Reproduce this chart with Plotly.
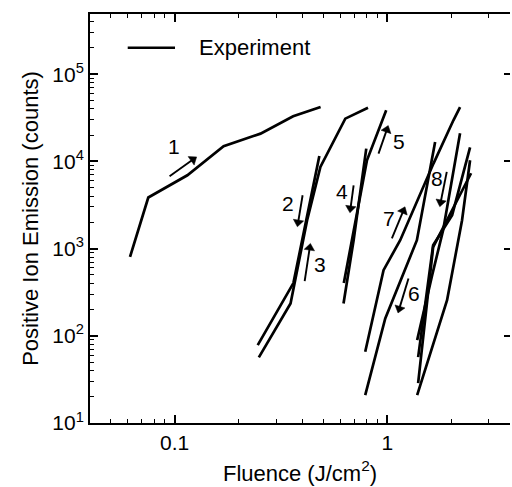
import numpy as np
import plotly.graph_objects as go

# Fluence (J/cm^2) and positive ion counts for each measurement run
run1_x = [0.0617, 0.0752, 0.1148, 0.170, 0.2535, 0.361, 0.486]
run1_y = [803, 3850, 6930, 14900, 20800, 32900, 42000]

run2_x = [0.4795, 0.362, 0.246]
run2_y = [11500, 402, 78.2]

run3_x = [0.249, 0.351, 0.420, 0.485, 0.635, 0.812]
run3_y = [56.6, 235, 2115, 8630, 30900, 41300]

run4_x = [0.797, 0.695, 0.623]
run4_y = [14000, 1247, 235]

run5_x = [0.625, 0.803, 0.989]
run5_y = [402, 10300, 38500]

run6_x = [1.68, 1.536, 1.379, 0.979, 0.788]
run6_y = [16700, 5090, 1247, 158, 20.9]

run7_x = [0.788, 0.961, 1.151, 1.650, 2.048, 2.201]
run7_y = [65.6, 566, 1247, 9440, 29600, 42000]

run8a_x = [2.201, 1.832, 1.627, 1.383]
run8a_y = [21000, 1626, 496, 89.3]
run8b_x = [2.453, 2.020, 1.644, 1.398]
run8b_y = [14500, 2414, 1094, 57.0]
run8c_x = [2.480, 1.644, 1.398]
run8c_y = [7310, 1037, 28.7]
run8d_x = [2.453, 2.249, 1.912, 1.383]
run8d_y = [10300, 2115, 256, 20.9]

# Direction arrows: tail -> head, plus the run-number label next to each
arrow_labels = ["1", "2", "3", "4", "5", "6", "7", "8"]
arrow_tail_x = [0.0947, 0.400, 0.409, 0.695, 0.910, 1.259, 1.052, 1.906]
arrow_tail_y = [6745, 4090, 424, 5320, 12270, 454, 1306, 7570]
arrow_head_x = [0.122, 0.381, 0.432, 0.672, 0.995, 1.140, 1.190, 1.784]
arrow_head_y = [10500, 2000, 1020, 2900, 23000, 205, 2700, 3400]
label_x = [0.0992, 0.340, 0.481, 0.613, 1.142, 1.339, 1.014, 1.711]
label_y = [14620, 3290, 658, 4467, 16700, 306, 2213, 6350]

x_tick_vals = [0.1, 1]
x_tick_text = ["0.1", "1"]
y_tick_vals = [1e1, 1e2, 1e3, 1e4, 1e5]
y_tick_text = ["10<sup>1</sup>", "10<sup>2</sup>", "10<sup>3</sup>", "10<sup>4</sup>", "10<sup>5</sup>"]

FONT = "Liberation Sans, Arial, Helvetica, sans-serif"
INK = "black"

runs = [
    (run1_x, run1_y), (run2_x, run2_y), (run3_x, run3_y), (run4_x, run4_y),
    (run5_x, run5_y), (run6_x, run6_y), (run7_x, run7_y),
    (run8a_x, run8a_y), (run8b_x, run8b_y), (run8c_x, run8c_y), (run8d_x, run8d_y),
]

fig = go.Figure()
for xs, ys in runs:
    fig.add_trace(go.Scatter(
        x=xs, y=ys, mode="lines",
        line=dict(color=INK, width=2.7),
        showlegend=False, hoverinfo="skip",
    ))

# arrows: a thin shaft with a triangular head turned along the shaft
for tx, ty, hx, hy in zip(arrow_tail_x, arrow_tail_y, arrow_head_x, arrow_head_y):
    fig.add_trace(go.Scatter(
        x=[tx, hx], y=[ty, hy], mode="lines+markers",
        line=dict(color=INK, width=1.9),
        marker=dict(symbol=["circle", "triangle-up"], size=[0, 9], angleref="previous",
                    color=INK, opacity=1, line=dict(width=0.5, color=INK)),
        opacity=1, showlegend=False, hoverinfo="skip",
    ))

# placeholder trace so the right-hand tick axis is drawn
fig.add_trace(go.Scatter(x=[None], y=[None], yaxis="y2", showlegend=False, hoverinfo="skip"))

minor_x = [v * 10.0 ** d for d in (-2, -1, 0) for v in range(2, 10)]
minor_y = [v * 10.0 ** d for d in (1, 2, 3, 4, 5) for v in range(2, 10)]

x_range = [np.log10(0.04), 0.5775]
y_range = [1, 5.69]

annotations = []
for lab, lx, ly in zip(arrow_labels, label_x, label_y):
    annotations.append(dict(
        x=np.log10(lx), y=np.log10(ly), xref="x", yref="y", text=lab,
        showarrow=False, font=dict(family=FONT, size=21, color=INK),
    ))

# legend entry
annotations.append(dict(
    x=0.254, y=0.9176, xref="paper", yref="paper", text="Experiment",
    xanchor="left", yanchor="middle", showarrow=False,
    font=dict(family=FONT, size=22, color=INK),
))

fig.update_layout(
    width=512, height=487,
    margin=dict(l=90, r=2, t=14, b=64),
    paper_bgcolor="white", plot_bgcolor="white",
    showlegend=False,
    font=dict(family=FONT, size=21, color=INK),
    xaxis=dict(
        type="log", range=x_range,
        tickvals=x_tick_vals, ticktext=x_tick_text,
        ticks="inside", ticklen=8, tickwidth=1.5, tickcolor=INK,
        minor=dict(tickvals=minor_x, ticks="inside", ticklen=4, tickwidth=1.2, tickcolor=INK),
        showline=True, linewidth=2, linecolor=INK, mirror="ticks",
        showgrid=False, zeroline=False,
        tickfont=dict(family=FONT, size=21),
        title=dict(text="Fluence (J/cm<sup>2</sup>)", font=dict(family=FONT, size=22), standoff=12),
    ),
    yaxis=dict(
        type="log", range=y_range,
        tickvals=y_tick_vals, ticktext=y_tick_text,
        ticks="inside", ticklen=8, tickwidth=1.5, tickcolor=INK,
        minor=dict(tickvals=minor_y, ticks="inside", ticklen=4, tickwidth=1.2, tickcolor=INK),
        showline=True, linewidth=2, linecolor=INK,
        showgrid=False, zeroline=False,
        tickfont=dict(family=FONT, size=21),
        title=dict(text="Positive Ion Emission (counts)", font=dict(family=FONT, size=22), standoff=8),
    ),
    yaxis2=dict(
        type="log", range=y_range, overlaying="y", side="right",
        tickvals=y_tick_vals, showticklabels=False,
        ticks="inside", ticklen=6, tickwidth=1.5, tickcolor=INK,
        showline=False, showgrid=False, zeroline=False,
    ),
    shapes=[dict(
        type="line", xref="paper", yref="paper",
        x0=0.0898, x1=0.2024, y0=0.9176, y1=0.9176,
        line=dict(color=INK, width=2.4),
    )],
    annotations=annotations,
)

fig.write_html("out.html")
